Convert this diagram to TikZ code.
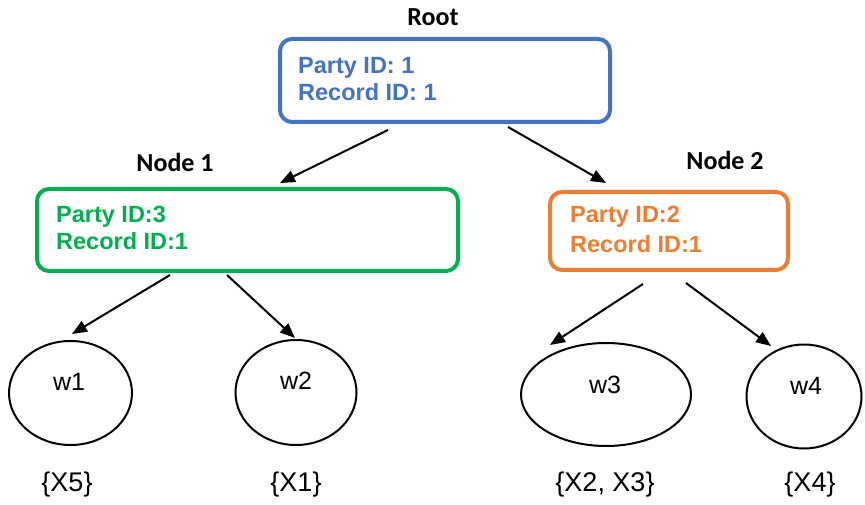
\documentclass[tikz,border=0pt]{standalone}
\usepackage{fontspec}
\setmainfont{Liberation Sans}
\newfontfamily\calibfont{Carlito}
\usetikzlibrary{arrows.meta,shapes.geometric}
\definecolor{rootblue}{HTML}{4472C4}
\definecolor{nodegreen}{HTML}{00B050}
\definecolor{nodeorange}{HTML}{ED7D31}
\begin{document}
\begin{tikzpicture}[x=1pt,y=-1pt,
  box/.style={draw, line width=4pt, rounded corners=12pt, inner sep=0pt, fill=white},
  leaf/.style={draw, ellipse, line width=2pt, inner sep=0pt},
  boxtext/.style={inner sep=0pt, anchor=base west, font=\fontsize{23.5}{28}\selectfont\bfseries},
  title/.style={inner sep=0pt, anchor=base, font=\calibfont\fontsize{26}{30}\selectfont\bfseries},
  wtext/.style={inner sep=0pt, anchor=base, font=\fontsize{25}{30}\selectfont},
  settext/.style={inner sep=0pt, anchor=base, font=\fontsize{27}{32}\selectfont},
  conn/.style={line width=2pt, -{Triangle[length=15pt,width=12pt]}}]
\useasboundingbox (0,0) rectangle (865,505);

% boxes
\node[box, draw=rootblue, minimum width=330pt, minimum height=83pt] (root) at (445,80.5) {};
\node[box, draw=nodegreen, minimum width=421pt, minimum height=82pt] (n1) at (247.5,230) {};
\node[box, draw=nodeorange, minimum width=238pt, minimum height=78pt] (n2) at (669,231) {};

% titles
\node[title] (troot) at (433,26) {Root};
\node[title] (tn1) at (175,171.7) {Node 1};
\node[title] (tn2) at (725,170) {Node 2};

% box texts
\node[boxtext, text=rootblue] (r1) at (298,74) {Party ID: 1};
\node[boxtext, text=rootblue] (r2) at (298,100.7) {Record ID: 1};
\node[boxtext, text=nodegreen] (a1) at (56,222.7) {Party ID:3};
\node[boxtext, text=nodegreen] (a2) at (56,250) {Record ID:1};
\node[boxtext, text=nodeorange] (b1) at (570,223) {Party ID:2};
\node[boxtext, text=nodeorange] (b2) at (570,252.7) {Record ID:1};

% leaves
\node[leaf, minimum width=123pt, minimum height=104pt] (w1) at (70.5,393) {};
\node[leaf, minimum width=121pt, minimum height=105pt] (w2) at (296,392.5) {};
\node[leaf, minimum width=170pt, minimum height=103pt] (w3) at (606,394.5) {};
\node[leaf, minimum width=115pt, minimum height=104pt] (w4) at (804,396.5) {};

\node[wtext] (lw1) at (69,390.7) {w1};
\node[wtext] (lw2) at (296,389) {w2};
\node[wtext] (lw3) at (605,393) {w3};
\node[wtext] (lw4) at (806,394) {w4};

\node[settext] (s1) at (67,491) {\{X5\}};
\node[settext] (s2) at (296,491) {\{X1\}};
\node[settext] (s3) at (605,491) {\{X2, X3\}};
\node[settext] (s4) at (810,491) {\{X4\}};

% connectors
\draw[conn] ([shift={(-57,6)}]root.south) -- ([shift={(32.5,-4)}]n1.north);
\draw[conn] ([shift={(63,3)}]root.south) -- ([shift={(-63,-7)}]n2.north);
\draw[conn] ([shift={(-77.5,2)}]n1.south) -- ([shift={(1.5,-6)}]w1.north);
\draw[conn] ([shift={(-20.5,2)}]n1.south) -- ([shift={(-1,-1)}]w2.north);
\draw[conn] ([shift={(-26,12)}]n2.south) -- ([shift={(-56,3)}]w3.north);
\draw[conn] ([shift={(17,11)}]n2.south) -- ([shift={(-33,2.5)}]w4.north);
\end{tikzpicture}
\end{document}
